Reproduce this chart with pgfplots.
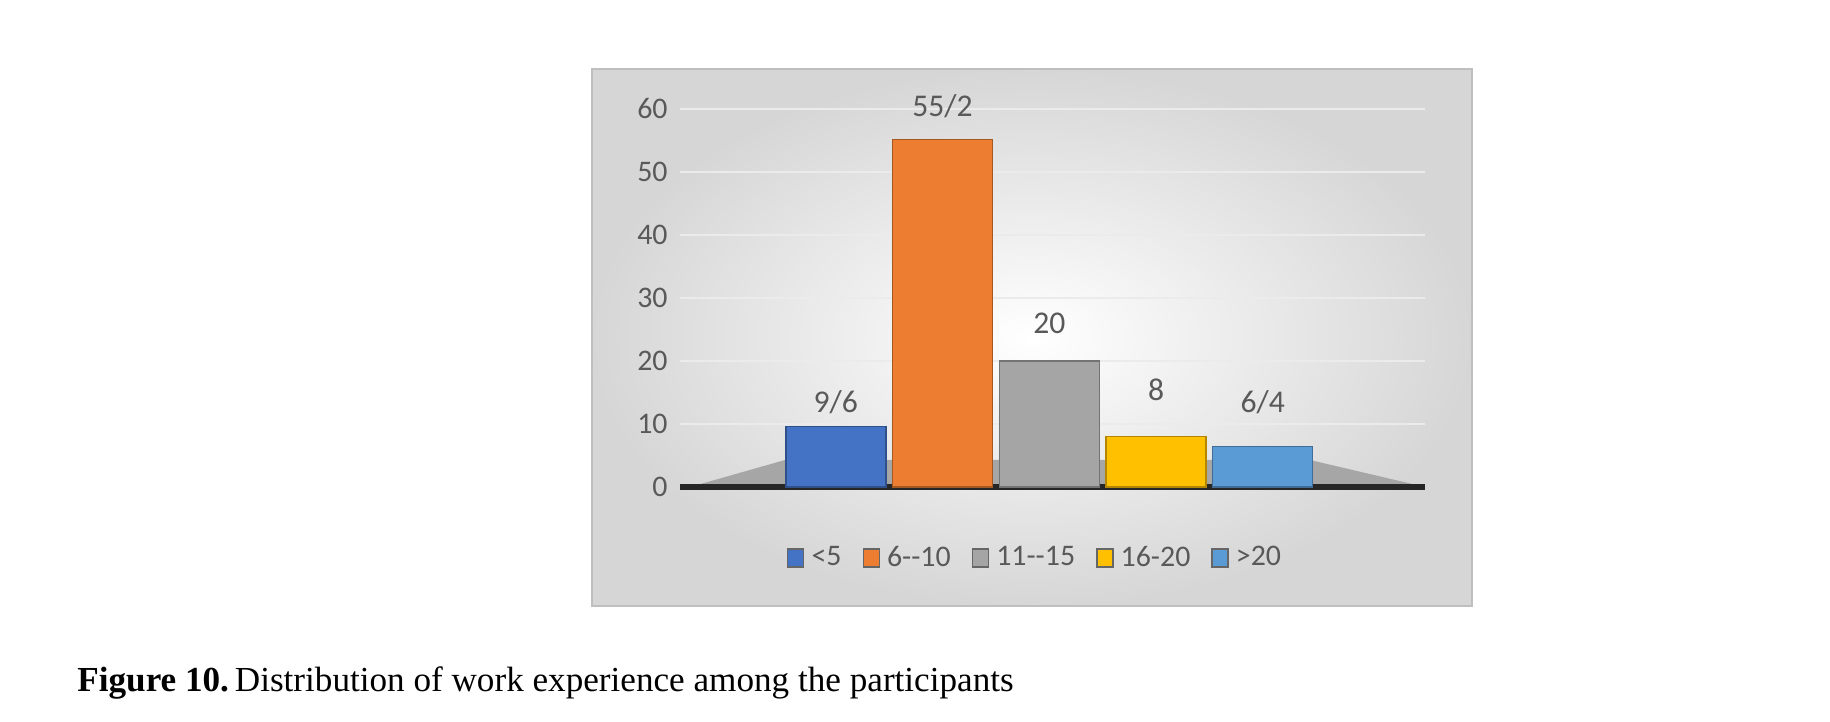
\documentclass[border=0pt]{standalone}
\usepackage{pgfplots}
\pgfplotsset{compat=1.18}
\usepackage{fontspec}
\setmainfont{Carlito}
\newfontfamily\capfont{Liberation Serif}
\definecolor{c1}{HTML}{4472C4}
\definecolor{c2}{HTML}{ED7D31}
\definecolor{c3}{HTML}{A5A5A5}
\definecolor{c4}{HTML}{FFC000}
\definecolor{c5}{HTML}{5B9BD5}
\definecolor{tx}{HTML}{595959}
\begin{document}
\begin{tikzpicture}
\path[use as bounding box] (0,0) rectangle (18.3cm,7.22cm);
\shade[inner color=white, outer color=black!16, draw=black!25] (5.92cm,1.16cm) rectangle (14.72cm,6.53cm);
\fill[black!35] (6.90cm,2.35cm) -- (14.25cm,2.35cm) -- (13.1cm,2.62cm) -- (7.85cm,2.62cm) -- cycle;
\begin{axis}[
  at={(6.80cm,2.35cm)}, anchor=south west, scale only axis,
  width=7.45cm, height=3.78cm,
  xmin=-1.46, xmax=5.52, ymin=0, ymax=60,
  ytick={0,10,...,60}, xtick=\empty,
  ymajorgrids, grid style={black!8},
  axis line style={draw=none},
  axis x line*=bottom, x axis line style={draw=black!85, line width=1.5pt},
  tick style={draw=none},
  /pgf/number format/assume math mode=true,
  yticklabel style={font=\fontsize{8.5}{10}\selectfont, text=tx},
  ybar, bar width=1.0cm, bar shift=0pt,
  legend columns=-1,
  legend style={at={(0.48,-0.19)}, anchor=center, draw=none, fill=none,
     font=\fontsize{8.5}{10}\selectfont\color{tx}, /tikz/every even column/.append style={column sep=4pt}},
  legend image code/.code={\draw[#1, draw=black!60] (0cm,-0.08cm) rectangle (0.16cm,0.1cm);},
  clip=false,
]
\addplot[fill=c1, draw=c1!70!black] coordinates {(0,9.6)};
\addplot[fill=c2, draw=c2!70!black] coordinates {(1,55.2)};
\addplot[fill=c3, draw=c3!70!black] coordinates {(2,20)};
\addplot[fill=c4, draw=c4!70!black] coordinates {(3,8)};
\addplot[fill=c5, draw=c5!70!black] coordinates {(4,6.4)};
\legend{<5, 6-{}-10, 11-{}-15, 16-20, >20}
\node[text=tx, font=\fontsize{9}{10}\selectfont] at (axis cs:0,13.5) {9/6};
\node[text=tx, font=\fontsize{9}{10}\selectfont] at (axis cs:1,60.5) {55/2};
\node[text=tx, font=\fontsize{9}{10}\selectfont] at (axis cs:2,26) {20};
\node[text=tx, font=\fontsize{9}{10}\selectfont] at (axis cs:3,15.5) {8};
\node[text=tx, font=\fontsize{9}{10}\selectfont] at (axis cs:4,13.5) {6/4};
\end{axis}
\node[anchor=west, font=\capfont\fontsize{10}{12}\selectfont] at (0.65cm,0.39cm) {\textbf{Figure 10.}\,Distribution of work experience among the participants};
\end{tikzpicture}
\end{document}
